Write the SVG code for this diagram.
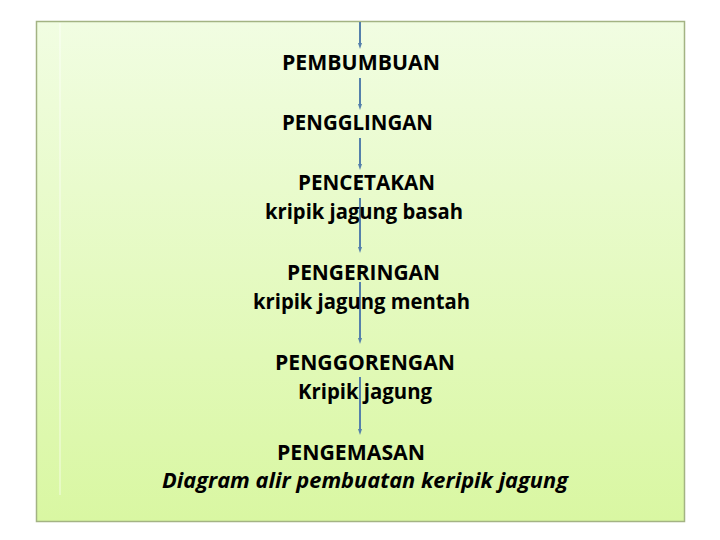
<svg xmlns="http://www.w3.org/2000/svg" width="720" height="540" viewBox="0 0 720 540">
  <defs>
    <linearGradient id="bg" x1="0" y1="0" x2="0" y2="1">
      <stop offset="0" stop-color="#f1fde2"/>
      <stop offset="1" stop-color="#d9f7a2"/>
    </linearGradient>
    <marker id="arr" viewBox="0 0 6 6" refX="3" refY="3" markerWidth="6" markerHeight="6" orient="auto" markerUnits="userSpaceOnUse">
      <path d="M0,1 L6,3 L0,5 Z" fill="#5580ab"/>
    </marker>
    <style>
      .t { font-family: "Open Sans", "Liberation Sans", Arial, sans-serif; font-weight: 700; font-size: 22px; fill: #000; }
      .i { font-style: italic; }
      .c { stroke: #5580ab; stroke-width: 2; fill: none; marker-end: url(#arr); }
    </style>
  </defs>
  <rect x="0" y="0" width="720" height="540" fill="#ffffff"/>
  <g id="panel">
    <rect x="36.5" y="21.5" width="648" height="500" fill="url(#bg)" stroke="#a3b383" stroke-width="1.5"/>
    <line x1="60" y1="23" x2="60" y2="495" stroke="#ffffff" stroke-opacity="0.45" stroke-width="1.5"/>
  </g>
  <g id="connectors">
    <line class="c" x1="360" y1="22" x2="360" y2="46"/>
    <line class="c" x1="360" y1="78" x2="360" y2="107"/>
    <line class="c" x1="360" y1="138" x2="360" y2="167"/>
    <line class="c" x1="360" y1="198" x2="360" y2="250"/>
    <line class="c" x1="360" y1="282" x2="360" y2="341"/>
    <line class="c" x1="360" y1="377" x2="360" y2="432"/>
  </g>
  <g id="n1"><text class="t" x="282" y="70" textLength="158" lengthAdjust="spacingAndGlyphs">PEMBUMBUAN</text></g>
  <g id="n2"><text class="t" x="282" y="130" textLength="151" lengthAdjust="spacingAndGlyphs">PENGGLINGAN</text></g>
  <g id="n3">
    <text class="t" x="298" y="190" textLength="137" lengthAdjust="spacingAndGlyphs">PENCETAKAN</text>
    <text class="t" x="265" y="219" textLength="198" lengthAdjust="spacingAndGlyphs">kripik jagung basah</text>
  </g>
  <g id="n4">
    <text class="t" x="287" y="280" textLength="153" lengthAdjust="spacingAndGlyphs">PENGERINGAN</text>
    <text class="t" x="253" y="309" textLength="217" lengthAdjust="spacingAndGlyphs">kripik jagung mentah</text>
  </g>
  <g id="n5">
    <text class="t" x="275" y="370" textLength="180" lengthAdjust="spacingAndGlyphs">PENGGORENGAN</text>
    <text class="t" x="298" y="399" textLength="134" lengthAdjust="spacingAndGlyphs">Kripik jagung</text>
  </g>
  <g id="n6">
    <text class="t" x="277" y="460" textLength="148" lengthAdjust="spacingAndGlyphs">PENGEMASAN</text>
    <text class="t i" x="162" y="488" textLength="406" lengthAdjust="spacingAndGlyphs">Diagram alir pembuatan keripik jagung</text>
  </g>
</svg>
